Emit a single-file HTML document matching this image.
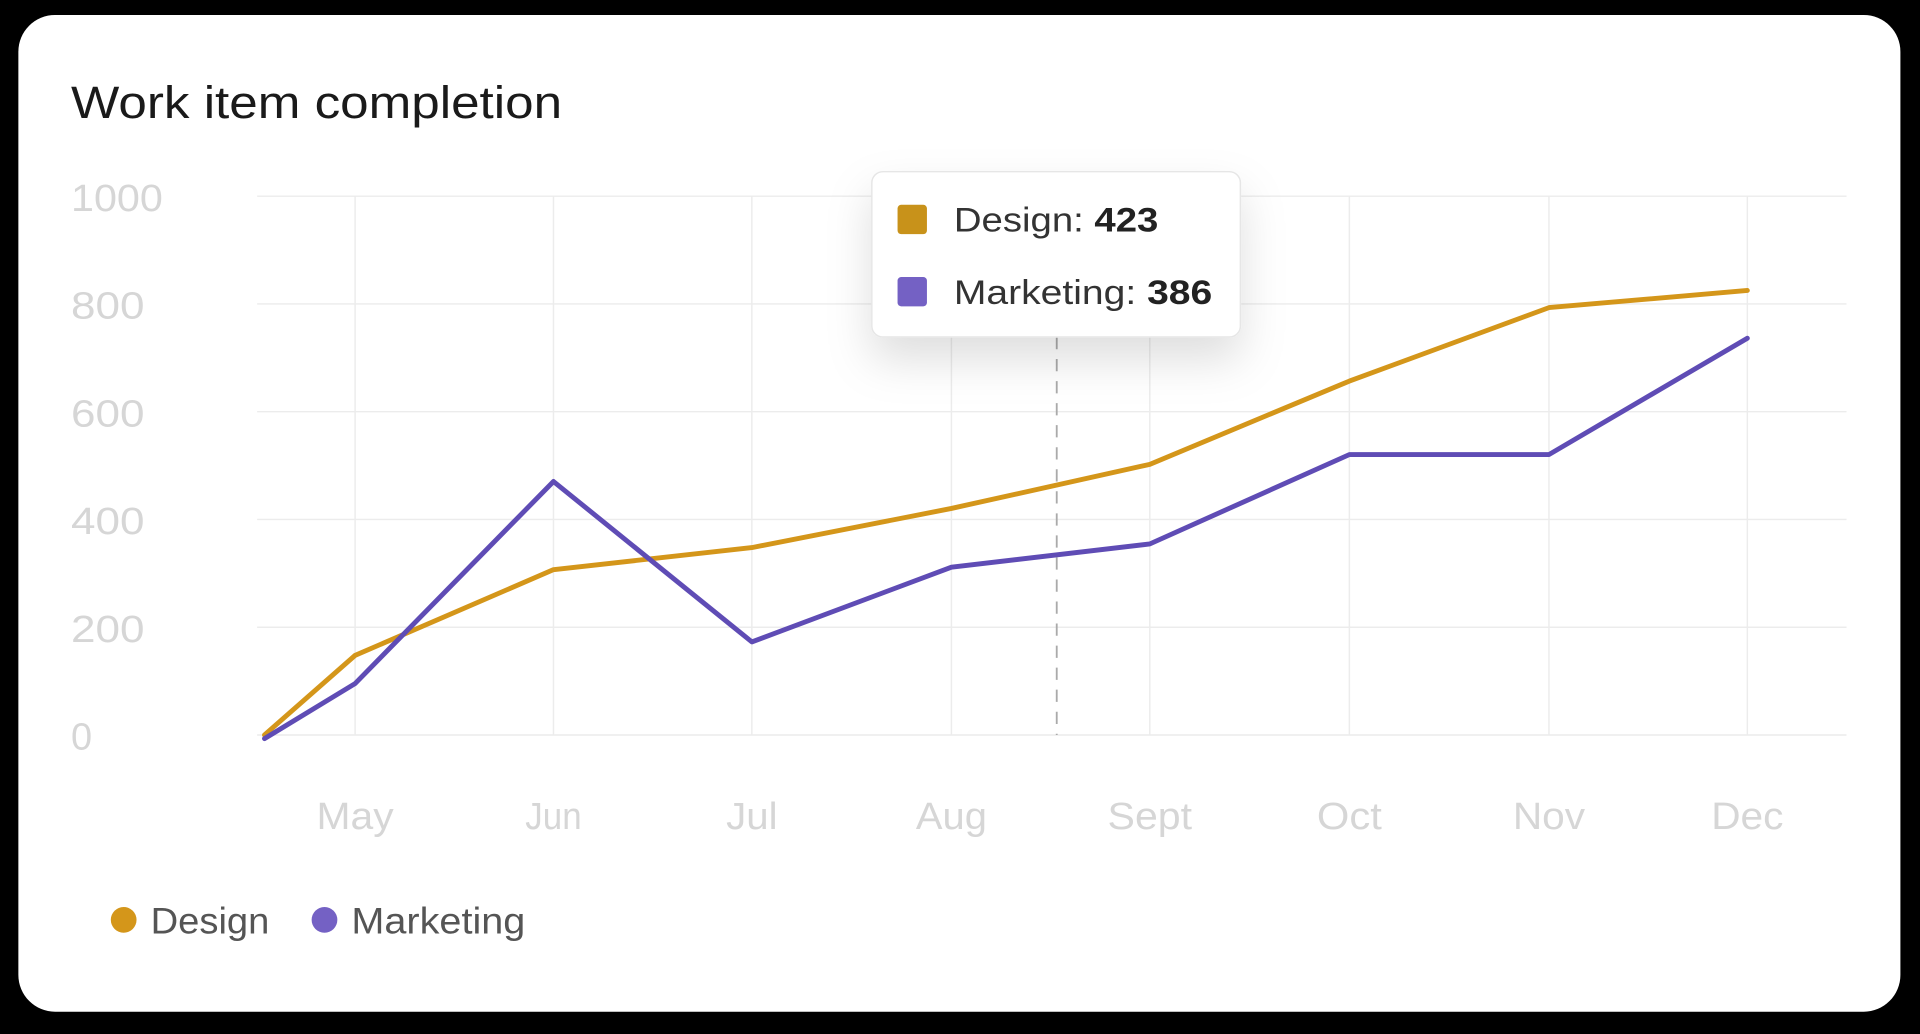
<!DOCTYPE html>
<html><head><meta charset="utf-8"><style>
html,body{margin:0;padding:0;background:#000;width:1920px;height:1034px;overflow:hidden}
svg{display:block}
text{font-family:"Liberation Sans","DejaVu Sans",sans-serif}
</style></head><body>
<svg width="1920" height="1034" viewBox="0 0 1568 844" xmlns="http://www.w3.org/2000/svg">
<defs>
<filter id="sh" x="-30%" y="-30%" width="160%" height="190%"><feDropShadow dx="0" dy="18" stdDeviation="18" flood-color="#000" flood-opacity="0.13"/></filter>
</defs>
<rect x="0" y="0" width="1568" height="844" fill="#000"/>
<rect x="15" y="12" width="1537" height="814" rx="30" fill="#fff"/>
<text x="58" y="96" font-size="37" fill="#1a1a1a" textLength="401" lengthAdjust="spacingAndGlyphs">Work item completion</text>
<g font-size="31" fill="#d6d6d6">
<text x="58" y="172" textLength="75" lengthAdjust="spacingAndGlyphs">1000</text>
<text x="58" y="260" textLength="60" lengthAdjust="spacingAndGlyphs">800</text>
<text x="58" y="348" textLength="60" lengthAdjust="spacingAndGlyphs">600</text>
<text x="58" y="436" textLength="60" lengthAdjust="spacingAndGlyphs">400</text>
<text x="58" y="524" textLength="60" lengthAdjust="spacingAndGlyphs">200</text>
<text x="58" y="612">0</text>
</g>
<g stroke="#ececec" stroke-width="1.2">
<line x1="210" y1="160" x2="1508" y2="160"/><line x1="210" y1="248" x2="1508" y2="248"/>
<line x1="210" y1="336" x2="1508" y2="336"/><line x1="210" y1="424" x2="1508" y2="424"/>
<line x1="210" y1="512" x2="1508" y2="512"/><line x1="210" y1="600" x2="1508" y2="600"/>
<line x1="290" y1="160" x2="290" y2="600"/><line x1="452" y1="160" x2="452" y2="600"/>
<line x1="614" y1="160" x2="614" y2="600"/><line x1="777" y1="160" x2="777" y2="600"/>
<line x1="939" y1="160" x2="939" y2="600"/><line x1="1102" y1="160" x2="1102" y2="600"/>
<line x1="1265" y1="160" x2="1265" y2="600"/><line x1="1427" y1="160" x2="1427" y2="600"/>
</g>
<g font-size="31" fill="#d6d6d6" text-anchor="middle">
<text x="290" y="677" textLength="63" lengthAdjust="spacingAndGlyphs">May</text>
<text x="452" y="677" textLength="46" lengthAdjust="spacingAndGlyphs">Jun</text>
<text x="614" y="677" textLength="42" lengthAdjust="spacingAndGlyphs">Jul</text>
<text x="777" y="677" textLength="58" lengthAdjust="spacingAndGlyphs">Aug</text>
<text x="939" y="677" textLength="69" lengthAdjust="spacingAndGlyphs">Sept</text>
<text x="1102" y="677" textLength="53" lengthAdjust="spacingAndGlyphs">Oct</text>
<text x="1265" y="677" textLength="59" lengthAdjust="spacingAndGlyphs">Nov</text>
<text x="1427" y="677" textLength="59" lengthAdjust="spacingAndGlyphs">Dec</text>
</g>
<line x1="863" y1="275" x2="863" y2="600" stroke="#aaa" stroke-width="1.5" stroke-dasharray="10,8"/>
<polyline fill="none" stroke="#d4961a" stroke-width="4" stroke-linejoin="round" stroke-linecap="round"
points="216,600 290,535 452,465 614,447 777,415 939,379 1102,311 1265,251 1427,237"/>
<polyline fill="none" stroke="#5f4cb5" stroke-width="4" stroke-linejoin="round" stroke-linecap="round"
points="216,603 290,558 452,393 614,524 777,463 939,444 1102,371 1265,371 1427,276"/>
<rect x="712" y="140" width="301" height="135" rx="9" fill="#fff" stroke="#e6e6e6" stroke-width="1.2" filter="url(#sh)"/>
<rect x="733" y="167" width="24" height="24" rx="3" fill="#c8921a"/>
<rect x="733" y="226" width="24" height="24" rx="3" fill="#7461c4"/>
<text x="779" y="189" font-size="28" fill="#333" textLength="167" lengthAdjust="spacingAndGlyphs">Design: <tspan font-weight="bold" fill="#222">423</tspan></text>
<text x="779" y="248" font-size="28" fill="#333" textLength="211" lengthAdjust="spacingAndGlyphs">Marketing: <tspan font-weight="bold" fill="#222">386</tspan></text>
<circle cx="101" cy="751" r="10.5" fill="#d4961a"/>
<text x="123" y="762" font-size="30" fill="#555" textLength="97" lengthAdjust="spacingAndGlyphs">Design</text>
<circle cx="265" cy="751" r="10.5" fill="#7461c4"/>
<text x="287" y="762" font-size="30" fill="#555" textLength="142" lengthAdjust="spacingAndGlyphs">Marketing</text>
</svg>
</body></html>
